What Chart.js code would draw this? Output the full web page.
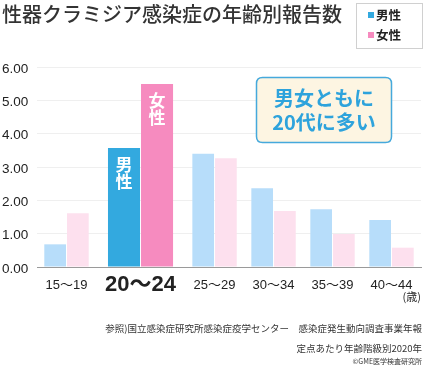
<!DOCTYPE html>
<html>
<head>
<meta charset="utf-8">
<style>
html,body{margin:0;padding:0;background:#fff;}
#wrap{width:424px;height:365px;position:relative;}
</style>
<script src="https://cdn.jsdelivr.net/npm/chart.js@4.4.1/dist/chart.umd.min.js"></script>
</head>
<body>
<div id="wrap"><canvas id="c" width="424" height="365"></canvas></div>
<script>
// ---- data ----
const categories = ['15～19', '20～24', '25～29', '30～34', '35～39', '40～44'];
const maleValues = [0.68, 3.57, 3.40, 2.36, 1.73, 1.41];
const femaleValues = [1.61, 5.49, 3.26, 1.68, 0.99, 0.58];
const yTickValues = [0, 1, 2, 3, 4, 5, 6];
const seriesNames = ['男性', '女性'];
const highlightIndex = 1;
const titleText = '性器クラミジア感染症の年齢別報告数';
const calloutLines = ['男女ともに', '20代に多い'];
const unitLabel = '(歳)';
const sourceLines = ['参照)国立感染症研究所感染症疫学センター　感染症発生動向調査事業年報', '定点あたり年齢階級別2020年'];
const copyrightText = '©GME医学検査研究所';

// ---- colours ----
const C = {
  maleHi: '#33a9df', femaleHi: '#f68bbf',
  maleLo: '#b7ddfa', femaleLo: '#fde0ee',
  text: '#2b2b2b', grid: '#efefef', axis: '#9a9a9a'
};
const JP = "'Noto Sans CJK JP', 'Noto Sans', sans-serif";
const NUM = "'Liberation Sans', 'Noto Sans CJK JP', sans-serif";

// ---- a category scale whose categories can have different widths ----
class WeightedCategoryScale extends Chart.CategoryScale {
  getPixelForValue(value) {
    if (typeof value !== 'number') value = this.parse(value);
    if (value === null || isNaN(value)) return NaN;
    const weights = this.options.weights || [];
    const n = this.getLabels().length;
    const idx = Math.round(value);
    let total = 0, center = 0;
    for (let i = 0; i < n; i++) {
      const w = weights[i] ?? 1;
      if (i === idx) center = total + w / 2;
      total += w;
    }
    return this.getPixelForDecimal(center / total);
  }
}
WeightedCategoryScale.id = 'weightedCategory';
WeightedCategoryScale.defaults = Chart.CategoryScale.defaults;
Chart.register(WeightedCategoryScale);

const onlyHi = arr => arr.map((v, i) => i === highlightIndex ? v : null);
const withoutHi = arr => arr.map((v, i) => i === highlightIndex ? null : v);

const hiBar = { categoryPercentage: 1.12, barPercentage: 0.97 };
const loBar = { categoryPercentage: 0.77, barPercentage: 0.955 };

// ---- plugin: legend box, callout, bar labels, notes ----
const extras = {
  id: 'extras',
  afterDraw(chart) {
    const ctx = chart.ctx;
    const ca = chart.chartArea;
    ctx.save();
    // legend box
    ctx.strokeStyle = '#d0d0d0';
    ctx.lineWidth = 1;
    ctx.strokeRect(356.5, 3.5, 66, 45);
    const legendDs = chart.data.datasets.filter(d => d.inLegend);
    legendDs.forEach((d, i) => {
      const cy = 15 + i * 20;
      ctx.fillStyle = d.backgroundColor;
      ctx.fillRect(368, cy - 3, 6, 6);
      ctx.fillStyle = '#222';
      ctx.font = `bold 12.5px ${JP}`;
      ctx.textAlign = 'left';
      ctx.textBaseline = 'middle';
      ctx.fillText(d.label, 376, cy + 0.5);
    });

    // callout box
    const bx = 256.5, by = 77.5, bw = 135, bh = 65, r = 6;
    ctx.beginPath();
    ctx.moveTo(bx + r, by);
    ctx.lineTo(bx + bw - r, by); ctx.quadraticCurveTo(bx + bw, by, bx + bw, by + r);
    ctx.lineTo(bx + bw, by + bh - r); ctx.quadraticCurveTo(bx + bw, by + bh, bx + bw - r, by + bh);
    ctx.lineTo(bx + r, by + bh); ctx.quadraticCurveTo(bx, by + bh, bx, by + bh - r);
    ctx.lineTo(bx, by + r); ctx.quadraticCurveTo(bx, by, bx + r, by);
    ctx.closePath();
    ctx.fillStyle = '#fdf5e2';
    ctx.fill();
    ctx.strokeStyle = '#45a9dc';
    ctx.lineWidth = 1.5;
    ctx.stroke();
    ctx.fillStyle = '#2ea3dc';
    ctx.font = `bold 20px ${JP}`;
    ctx.textAlign = 'center';
    ctx.textBaseline = 'middle';
    ctx.fillText(calloutLines[0], bx + bw / 2, 98);
    ctx.fillText(calloutLines[1], bx + bw / 2, 122);

    // vertical labels inside the highlighted bars
    chart.data.datasets.forEach((d, di) => {
      if (!d.inLegend) return;
      const el = chart.getDatasetMeta(di).data[highlightIndex];
      if (!el) return;
      ctx.fillStyle = '#ffffff';
      ctx.font = `bold 17px ${JP}`;
      ctx.textAlign = 'center';
      ctx.textBaseline = 'middle';
      [...d.label].forEach((ch, k) => ctx.fillText(ch, el.x, el.y + 17 + k * 16.5));
    });

    // unit label
    ctx.fillStyle = C.text;
    ctx.font = `11px ${JP}`;
    ctx.textAlign = 'right';
    ctx.textBaseline = 'middle';
    ctx.fillText(unitLabel, 421, 297);

    // source notes
    ctx.font = `9.5px ${JP}`;
    ctx.fillStyle = '#333';
    ctx.fillText(sourceLines[0], 422, 328);
    ctx.fillText(sourceLines[1], 422, 348);
    ctx.font = `7px ${JP}`;
    ctx.fillText(copyrightText, 422, 361);
    ctx.restore();
  }
};

new Chart(document.getElementById('c'), {
  type: 'bar',
  data: {
    labels: categories,
    datasets: [
      { label: seriesNames[0], inLegend: true, data: onlyHi(maleValues), backgroundColor: C.maleHi, ...hiBar },
      { label: seriesNames[1], inLegend: true, data: onlyHi(femaleValues), backgroundColor: C.femaleHi, ...hiBar },
      { label: seriesNames[0], data: withoutHi(maleValues), backgroundColor: C.maleLo, ...loBar },
      { label: seriesNames[1], data: withoutHi(femaleValues), backgroundColor: C.femaleLo, ...loBar }
    ]
  },
  options: {
    responsive: false,
    animation: false,
    devicePixelRatio: 1,
    events: [],
    skipNull: true,
    datasets: { bar: { skipNull: true } },
    layout: { padding: { left: 2, right: 3, top: 0, bottom: 58 } },
    plugins: {
      legend: { display: false },
      tooltip: { enabled: false },
      title: {
        display: true,
        text: titleText,
        align: 'start',
        color: '#333',
        font: { family: JP, size: 20, weight: 500, lineHeight: 1.2 },
        padding: { top: 2, bottom: 41 }
      }
    },
    scales: {
      x: {
        type: 'weightedCategory',
        weights: categories.map((_, i) => i === highlightIndex ? 1.51 : 1),
        grid: { display: false, drawTicks: false },
        border: { display: true, color: C.axis, width: 1 },
        ticks: {
          padding: 4,
          color: '#222',
          maxRotation: 0,
          autoSkip: false,
          font: ctx => ctx.index === highlightIndex
            ? { family: NUM, size: 22, weight: 'bold', lineHeight: '28px' }
            : { family: NUM, size: 13, weight: 'normal', lineHeight: '28px' }
        },
        afterFit: s => { s.height = 40; }
      },
      y: {
        min: yTickValues[0],
        max: yTickValues[yTickValues.length - 1],
        afterBuildTicks: s => { s.ticks = yTickValues.map(v => ({ value: v })); },
        grid: { color: C.grid, drawTicks: false },
        border: { display: false },
        ticks: {
          crossAlign: 'far',
          padding: 6,
          labelOffset: 2,
          color: '#222',
          font: { family: NUM, size: 13.5 },
          callback: v => Number(v).toFixed(2)
        },
        afterFit: s => { s.width = 35; }
      }
    }
  },
  plugins: [extras]
});
</script>
</body>
</html>
